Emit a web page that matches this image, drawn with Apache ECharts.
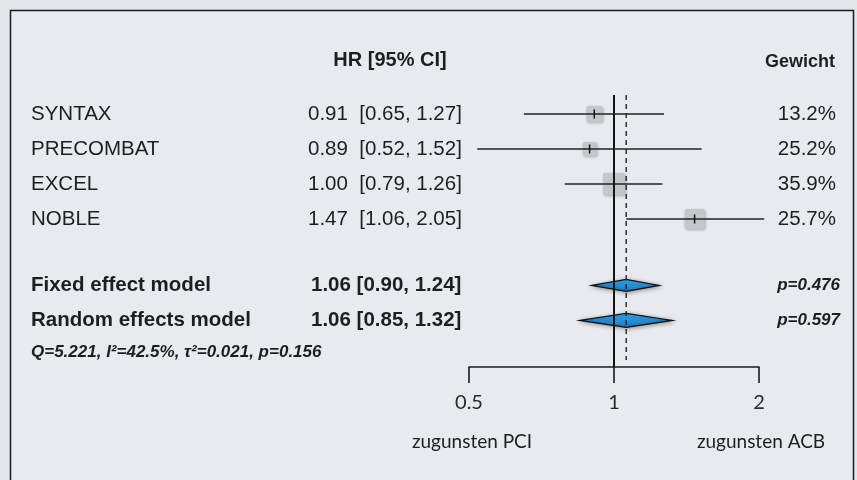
<!DOCTYPE html>
<html><head><meta charset="utf-8">
<script src="https://cdn.jsdelivr.net/npm/echarts@6/dist/echarts.min.js"></script>
<style>html,body{margin:0;padding:0;background:#e3e7eb}#c{width:857px;height:480px}</style>
</head><body><div id="c"></div>
<script>
// ---------- data ----------
const studies = ['SYNTAX', 'PRECOMBAT', 'EXCEL', 'NOBLE'];
const hr = [0.91, 0.89, 1.00, 1.47];
const ciLow = [0.65, 0.52, 0.79, 1.06];
const ciHigh = [1.27, 1.52, 1.26, 2.05];
const weights = ['13.2%', '25.2%', '35.9%', '25.7%'];
const models = ['Fixed effect model', 'Random effects model'];
const modelHr = [1.06, 1.06];
const modelLow = [0.90, 0.85];
const modelHigh = [1.24, 1.32];
const modelP = ['p=0.476', 'p=0.597'];
const heterogeneity = 'Q=5.221, I²=42.5%, τ²=0.021, p=0.156';
const headers = ['HR [95% CI]', 'Gewicht'];
const xTicks = [0.5, 1, 2];
const favourLabels = ['zugunsten PCI', 'zugunsten ACB'];
const nullValue = 1;
const pooledValue = 1.06;

// ---------- layout / style ----------
const studyRows = [1, 2, 3, 4];
const modelRows = [5.9, 6.9];
const hetRow = 7.8;
const yMax = 8.23;
const squareSize = [16, 14, 22, 20];
const diamondH = [12, 14];
const SANS = '"Liberation Sans", Arial, sans-serif';
const TXT = '#1e1e1e';

const fmt = (v) => v.toFixed(2);

function txt(x, y, text, font, align) {
  return {
    type: 'text',
    style: {
      x: x, y: y, text: text, font: font, fill: TXT,
      align: align || 'left', verticalAlign: 'middle',
      textAlign: align || 'left', textVerticalAlign: 'middle'
    }
  };
}

const chart = echarts.init(document.getElementById('c'), null, {renderer: 'canvas'});

const option = {
  backgroundColor: '#e3e7eb',
  animation: false,
  graphic: [
    {type: 'rect', z: -10, silent: true,
     shape: {x: 10.5, y: 10.5, width: 843, height: 520},
     style: {fill: '#e7ebef', stroke: '#1a1a1a', lineWidth: 1.5}},
    txt(390, 60, headers[0], 'bold 20px ' + SANS, 'center'),
    txt(835, 62, headers[1], 'bold 18px ' + SANS, 'right')
  ],
  grid: {left: 469, right: 98, top: 79, height: 288, containLabel: false},
  xAxis: {
    type: 'log', logBase: 2, min: xTicks[0], max: xTicks[xTicks.length - 1],
    position: 'bottom',
    splitLine: {show: false},
    axisLine: {show: true, onZero: false, lineStyle: {color: '#1a1a1a', width: 1.6}},
    axisTick: {show: true, length: 16, lineStyle: {color: '#1a1a1a', width: 1.6}},
    axisLabel: {
      margin: 26, fontSize: 20, fontFamily: 'Lato, "Open Sans", sans-serif', color: '#2a2a2a',
      formatter: (v) => {
        const t = xTicks.find((k) => Math.abs(k - v) < 1e-6);
        return t === undefined ? '' : String(t);
      }
    }
  },
  yAxis: {type: 'value', inverse: true, min: 0, max: yMax, show: false},
  series: [
    // study squares, CI lines, point ticks
    {
      type: 'custom', z: 2, clip: false,
      encode: {x: [0, 1, 2], y: 3},
      data: studies.map((s, i) => [hr[i], ciLow[i], ciHigh[i], studyRows[i], i]),
      renderItem: (params, api) => {
        const i = api.value(4);
        const c = api.coord([api.value(0), api.value(3)]);
        const l = api.coord([api.value(1), api.value(3)]);
        const h = api.coord([api.value(2), api.value(3)]);
        const s = squareSize[i];
        return {
          type: 'group',
          children: [
            {type: 'rect', shape: {x: c[0] - s / 2, y: c[1] - s / 2, width: s, height: s, r: 2},
             style: {fill: '#c3c7cb', shadowBlur: 3, shadowColor: 'rgba(0,0,0,0.28)', shadowOffsetX: 1, shadowOffsetY: 1}},
            {type: 'line', shape: {x1: l[0], y1: l[1], x2: h[0], y2: h[1]},
             style: {stroke: '#222', lineWidth: 1.3}},
            {type: 'line', shape: {x1: c[0], y1: c[1] - 4.5, x2: c[0], y2: c[1] + 4.5},
             style: {stroke: '#111', lineWidth: 1.5}}
          ]
        };
      }
    },
    // pooled diamonds
    {
      type: 'custom', z: 2, clip: false,
      encode: {x: [0, 1, 2], y: 3},
      data: models.map((m, i) => [modelHr[i], modelLow[i], modelHigh[i], modelRows[i], i]),
      renderItem: (params, api) => {
        const i = api.value(4);
        const c = api.coord([api.value(0), api.value(3)]);
        const l = api.coord([api.value(1), api.value(3)]);
        const h = api.coord([api.value(2), api.value(3)]);
        const d = diamondH[i] / 2;
        return {
          type: 'polygon',
          shape: {points: [[l[0], l[1]], [c[0], c[1] - d], [h[0], h[1]], [c[0], c[1] + d]]},
          style: {
            fill: new echarts.graphic.LinearGradient(0, 0, 0, 1, [
              {offset: 0, color: '#43a8ea'}, {offset: 1, color: '#1279c4'}]),
            stroke: '#111', lineWidth: 1.3,
            shadowBlur: 4, shadowColor: 'rgba(0,0,0,0.35)', shadowOffsetX: 1, shadowOffsetY: 1
          }
        };
      }
    },
    // null line
    {
      type: 'line', z: 4, symbol: 'none', silent: true,
      data: [[nullValue, 0.457], [nullValue, yMax]],
      lineStyle: {color: '#151515', width: 2}
    },
    // pooled estimate dashed line
    {
      type: 'line', z: 4, symbol: 'none', silent: true,
      data: [[pooledValue, 0.457], [pooledValue, 8.03]],
      lineStyle: {color: '#222', width: 1.4, type: [5, 4]}
    },
    // study text columns
    {
      type: 'custom', z: 5, clip: false,
      encode: {x: 0, y: 1},
      data: studies.map((s, i) => [1, studyRows[i], i]),
      renderItem: (params, api) => {
        const i = api.value(2);
        const y = api.coord([1, api.value(1)])[1];
        const f = '20.5px ' + SANS;
        return {type: 'group', children: [
          txt(31, y, studies[i], f, 'left'),
          txt(308, y, fmt(hr[i]) + '  [' + fmt(ciLow[i]) + ', ' + fmt(ciHigh[i]) + ']', f, 'left'),
          txt(836, y, weights[i], f, 'right')
        ]};
      }
    },
    // model text columns
    {
      type: 'custom', z: 5, clip: false,
      encode: {x: 0, y: 1},
      data: models.map((m, i) => [1, modelRows[i], i]),
      renderItem: (params, api) => {
        const i = api.value(2);
        const y = api.coord([1, api.value(1)])[1];
        const f = 'bold 20.5px ' + SANS;
        return {type: 'group', children: [
          txt(31, y, models[i], f, 'left'),
          txt(311, y, fmt(modelHr[i]) + ' [' + fmt(modelLow[i]) + ', ' + fmt(modelHigh[i]) + ']', f, 'left'),
          txt(840, y, modelP[i], 'italic bold 17px ' + SANS, 'right')
        ]};
      }
    },
    // heterogeneity line + favour labels
    {
      type: 'custom', z: 5, clip: false,
      encode: {x: 0, y: 1},
      data: [[1, hetRow]],
      renderItem: (params, api) => {
        const y = api.coord([1, api.value(1)])[1];
        const a = api.coord([xTicks[0], yMax])[0];
        const b = api.coord([xTicks[xTicks.length - 1], yMax])[0];
        const f = '19px Lato, "Open Sans", sans-serif';
        return {type: 'group', children: [
          txt(31, y, heterogeneity, 'italic bold 17px ' + SANS, 'left'),
          txt(a + 3, 442, favourLabels[0], f, 'center'),
          txt(b + 2, 442, favourLabels[1], f, 'center')
        ]};
      }
    }
  ]
};
chart.setOption(option);
</script></body></html>
